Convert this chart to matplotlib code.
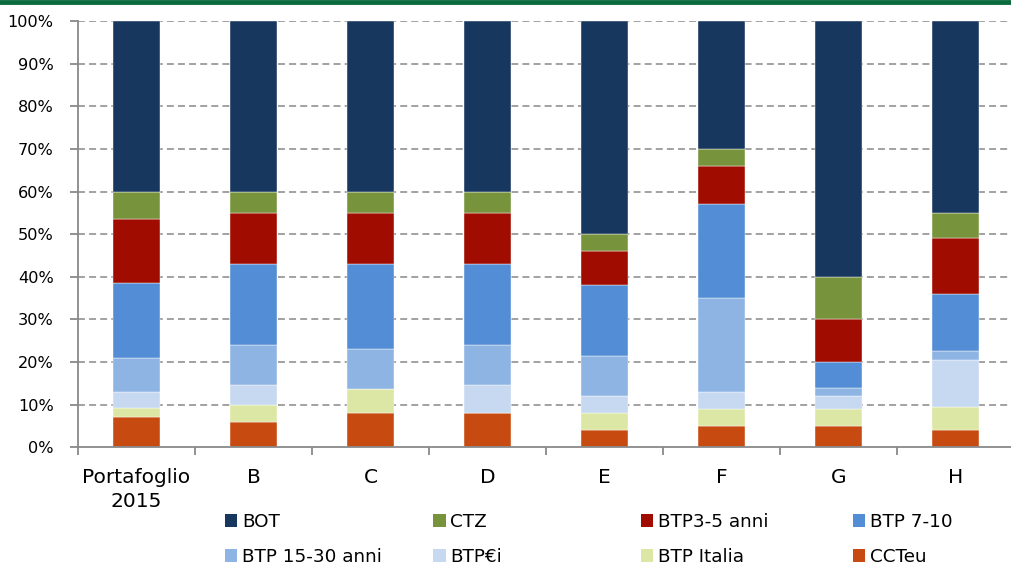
import matplotlib
matplotlib.use("Agg")
import matplotlib.pyplot as plt
from matplotlib.lines import Line2D
from matplotlib.patches import Patch
import numpy as np

# categories (portfolios)
cats = ['Portafoglio\n2015', 'B', 'C', 'D', 'E', 'F', 'G', 'H']

# shares in % (bottom to top)
cct = [7, 6, 8, 8, 4, 5, 5, 4]
italia = [2.2, 4, 5.6, 0, 4, 4, 4, 5.5]
btpei = [3.8, 4.5, 0, 6.5, 4, 4, 3, 11]
btp1530 = [8, 9.5, 9.4, 9.5, 9.5, 22, 2, 2]
btp710 = [17.6, 19, 20, 19, 16.5, 22, 6, 13.5]
btp35 = [15, 12, 12, 12, 8, 9, 10, 13]
ctz = [6.4, 5, 5, 5, 4, 4, 10, 6]
bot = [40, 40, 40, 40, 50, 30, 60, 45]

names = ['CCTeu', 'BTP Italia', 'BTP€i', 'BTP 15-30 anni', 'BTP 7-10', 'BTP3-5 anni', 'CTZ', 'BOT']
series = [cct, italia, btpei, btp1530, btp710, btp35, ctz, bot]
colors = ['#C74B10', '#DCE6A5', '#C6D9F1', '#8EB4E3', '#538DD5', '#A00D00', '#77933C', '#17375E']

plt.rcParams['font.family'] = 'DejaVu Sans'
plt.rcParams['lines.scale_dashes'] = False

fig = plt.figure(figsize=(10.12, 5.67), dpi=100)
ax = fig.add_axes([0.0771, 0.2111, 0.925, 0.7519])

x = np.arange(len(cats))
bottom = np.zeros(len(cats))
for vals, col in zip(series, colors):
    ax.bar(x, vals, width=0.4, bottom=bottom, color=col, edgecolor='white', linewidth=0.3, zorder=2)
    bottom += np.array(vals)

ax.set_xlim(-0.5, len(cats) - 0.5)
ax.set_ylim(0, 100)
ax.set_yticks(range(0, 101, 10))
ax.set_yticklabels([f"{v}%" for v in range(0, 101, 10)], fontsize=11.6)
ax.set_xticks(x)
ax.set_xticklabels(cats, fontsize=14.5, linespacing=1.3)
ax.set_xticks(np.arange(-0.5, len(cats), 1), minor=True)
ax.tick_params(axis='x', which='major', length=0, pad=15)
ax.tick_params(axis='x', which='minor', length=6, color='#898989', width=1.3)
ax.tick_params(axis='y', length=6, color='#898989', width=1.3, pad=11.5)

# dashed grid
ax.set_axisbelow(True)
for v in range(10, 101, 10):
    ax.axhline(v, color='#8c8c8c', lw=1.15, dashes=(5, 3), zorder=1)

for s in ['top', 'right']:
    ax.spines[s].set_visible(False)
for s in ['left', 'bottom']:
    ax.spines[s].set_color('#898989')
    ax.spines[s].set_linewidth(1.3)

# green line at the top of the page
fig.add_artist(Line2D([0, 1], [0.997, 0.997], transform=fig.transFigure, color='#0B6B3E', lw=3.5))

# legend, laid out row by row
order = [7, 6, 5, 4, 3, 2, 1, 0]
xs = [0.2223, 0.4279, 0.6334, 0.8429]
ys = [0.080, 0.0176]
for k, idx in enumerate(order):
    h = Patch(facecolor=colors[idx], edgecolor='none')
    fig.legend([h], [names[idx]], loc='center left', bbox_to_anchor=(xs[k % 4], ys[k // 4]),
               frameon=False, fontsize=13.2, borderpad=0, borderaxespad=0,
               handlelength=0.68, handleheight=0.68, handletextpad=0.25)

plt.savefig("out.png", dpi=100)
